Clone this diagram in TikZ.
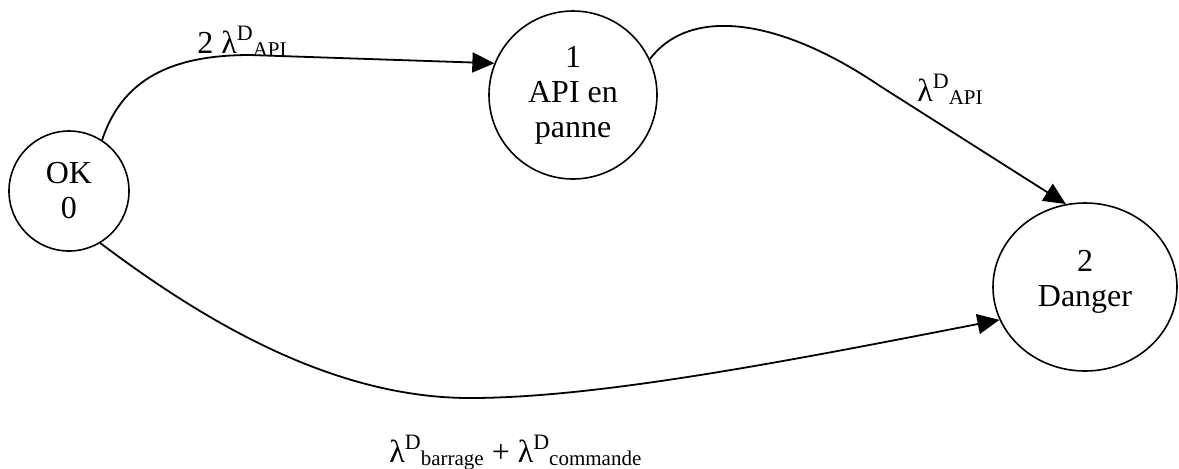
\documentclass[tikz,border=0pt]{standalone}
\usepackage{fontspec}
\setmainfont{Liberation Serif}
\usetikzlibrary{arrows.meta,shapes.geometric}
\newcommand{\lamD}[1]{λ\raisebox{6.5pt}{\fontsize{11}{12}\selectfont D}\raisebox{-1.5pt}{\fontsize{10.5}{12}\selectfont #1}}

\begin{document}
\begin{tikzpicture}[x=0.5pt,y=-0.5pt,
  state/.style={draw,line width=0.8pt,circle,inner sep=0pt,align=center,font=\fontsize{16}{17.5}\selectfont},
  trans/.style={line width=0.9pt,-{Triangle[length=11pt,width=10pt]}},
  rate/.style={inner sep=0pt,anchor=base west,font=\fontsize{16}{18}\selectfont}]
\useasboundingbox (0,0) rectangle (1179,468);
\node[state,minimum size=60pt] (ok) at (69,191) {OK\\0};
\node[state,minimum size=84pt] (api) at (573,95) {1\\API en\\panne};
\node[state,ellipse,minimum width=92pt,minimum height=84pt] (danger) at (1085,287) {2\\Danger\\[-9pt]};
\draw[trans] (ok.57) .. controls (122,80) and (170,55) .. (250,55) -- (api.158);
\draw[trans] (api.25) .. controls (688,8) and (775,15) .. (880,86) -- (danger.103);
\draw[trans] (ok.-59) .. controls (200,318) and (330,398) .. (470,398) .. controls (600,398) and (793,360) .. (danger.201);
\node[rate] (r01) at (197,53) {2 \lamD{API}};
\node[rate] (r12) at (917,101) {\lamD{API}};
\node[rate] (r02) at (389,462) {\lamD{barrage} + \lamD{commande}};
\end{tikzpicture}
\end{document}
